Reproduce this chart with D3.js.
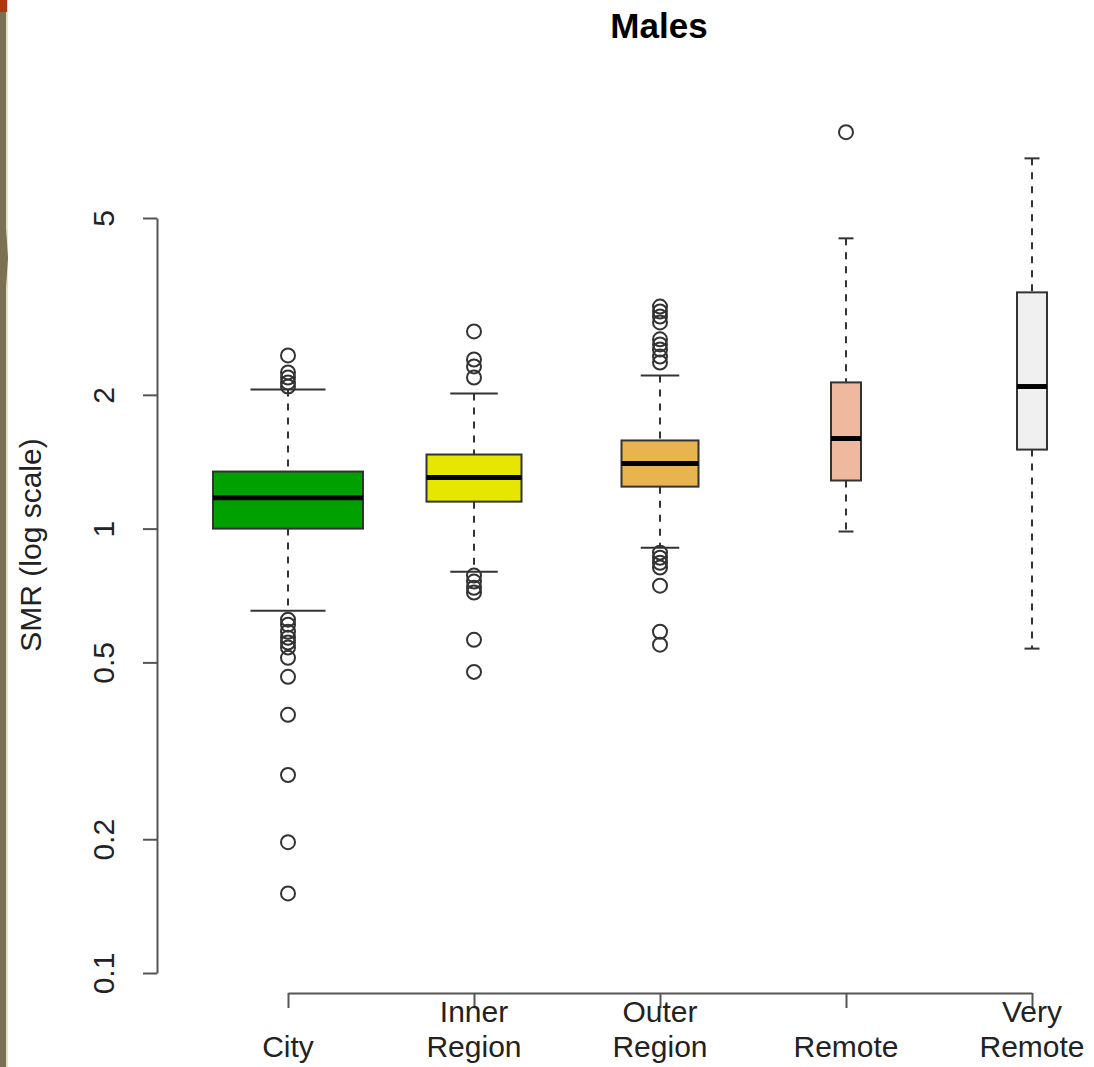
<!DOCTYPE html>
<html>
<head>
<meta charset="utf-8">
<script src="https://cdn.jsdelivr.net/npm/d3@7"></script>
<style>
  body { margin: 0; background: #fff; }
  svg { display: block; font-family: "Liberation Sans", Arial, sans-serif; }
</style>
</head>
<body>
<svg id="chart"></svg>
<script>
// boxplot stats per region (log scale)
var categories = ['City', 'Inner Region', 'Outer Region', 'Remote', 'Very Remote'];
var labelLines = [['City'], ['Inner', 'Region'], ['Outer', 'Region'], ['Remote'], ['Very', 'Remote']];
var whiskerLo = [0.653, 0.800, 0.906, 0.985, 0.537];
var q1 = [1.0, 1.150, 1.243, 1.283, 1.506];
var median = [1.174, 1.303, 1.401, 1.595, 2.088];
var q3 = [1.344, 1.468, 1.579, 2.133, 3.401];
var whiskerHi = [2.056, 2.014, 2.211, 4.5, 6.81];
var outliers = [
	[2.453, 2.246, 2.188, 2.133, 2.088, 0.624, 0.608, 0.586, 0.568, 0.554, 0.540, 0.512, 0.464, 0.381, 0.279, 0.197, 0.151],
	[2.778, 2.402, 2.317, 2.188, 0.784, 0.760, 0.736, 0.718, 0.562, 0.476],
	[3.16, 3.08, 3.00, 2.91, 2.666, 2.597, 2.53, 2.439, 2.365, 0.883, 0.860, 0.838, 0.817, 0.744, 0.586, 0.548],
	[7.80],
	[]
];
var fills = ['#00a000', '#e6e600', '#e8b450', '#efb9a0', '#f0f0f0'];
var yTicks = [0.1, 0.2, 0.5, 1, 2, 5];

var width = 1094, height = 1067;
// varwidth boxes
var boxW = [150, 95, 77, 30, 30];

var svg = d3.select('#chart')
	.attr('width', width)
	.attr('height', height);

// left edge strip from the source screenshot
svg.append('rect').attr('x', 0).attr('y', 0).attr('width', 6).attr('height', height).attr('fill', '#7a7052');
svg.append('rect').attr('x', 6).attr('y', 0).attr('width', 2).attr('height', height).attr('fill', '#dfe6c6');
svg.append('rect').attr('x', 0).attr('y', 0).attr('width', 7).attr('height', 12).attr('fill', '#b0380f');
svg.append('path').attr('d', 'M6,228 L8,258 L6,288 Z').attr('fill', '#7a7052');

var y = d3.scaleLog().domain([0.1, 5]).range([973, 218]);
var x = d3.scalePoint().domain(categories).range([288, 1032]);

var ink = '#333';

// title
svg.append('text')
	.attr('x', 659)
	.attr('y', 38)
	.attr('text-anchor', 'middle')
	.style('font-size', '35px')
	.style('font-weight', 'bold')
	.text('Males');

// y axis
var yAxis = svg.append('g')
	.attr('transform', 'translate(157,0)')
	.call(d3.axisLeft(y).tickValues(yTicks).tickFormat(d3.format('~g')).tickSize(14).tickSizeOuter(0));
yAxis.select('.domain').attr('stroke', '#555').attr('stroke-width', 2);
yAxis.selectAll('.tick line').attr('stroke', '#555').attr('stroke-width', 2);
yAxis.selectAll('.tick text')
	.attr('x', 0).attr('y', 0).attr('dy', null)
	.attr('transform', 'translate(-43,0) rotate(-90)')
	.attr('text-anchor', 'middle')
	.attr('fill', '#222')
	.style('font-size', '30px')
	.style('font-family', '"Liberation Sans", Arial, sans-serif');

svg.append('text')
	.attr('transform', 'translate(41,545) rotate(-90)')
	.attr('text-anchor', 'middle')
	.attr('fill', '#222')
	.style('font-size', '30px')
	.text('SMR (log scale)');

// x axis
var xAxis = svg.append('g')
	.attr('transform', 'translate(0,993)')
	.call(d3.axisBottom(x).tickSize(15).tickSizeOuter(0).tickFormat(''));
xAxis.select('.domain').attr('stroke', '#555').attr('stroke-width', 2);
xAxis.selectAll('.tick line').attr('stroke', '#555').attr('stroke-width', 2);

categories.forEach(function(c, i) {
	var lines = labelLines[i];
	var t = svg.append('text')
		.attr('text-anchor', 'middle')
		.attr('fill', '#222')
		.style('font-size', '30px');
	lines.forEach(function(l, j) {
		t.append('tspan')
			.attr('x', x(c))
			.attr('y', 1057 - (lines.length - 1 - j) * 35)
			.text(l);
	});
});

// boxes
var data = categories.map(function(c, i) {
	return {
		name: c, lo: whiskerLo[i], q1: q1[i], med: median[i], q3: q3[i], hi: whiskerHi[i],
		out: outliers[i], fill: fills[i], w: boxW[i]
	};
});

var g = svg.selectAll('.box').data(data)
	.enter()
	.append('g')
	.attr('class', 'box')
	.attr('transform', function(d) { return 'translate(' + x(d.name) + ',0)'; });

// dashed whiskers
g.append('line')
	.attr('x1', 0).attr('x2', 0)
	.attr('y1', function(d) { return y(d.hi); })
	.attr('y2', function(d) { return y(d.q3); })
	.attr('stroke', ink).attr('stroke-width', 2).attr('stroke-dasharray', '7,7');
g.append('line')
	.attr('x1', 0).attr('x2', 0)
	.attr('y1', function(d) { return y(d.q1); })
	.attr('y2', function(d) { return y(d.lo); })
	.attr('stroke', ink).attr('stroke-width', 2).attr('stroke-dasharray', '7,7');

// whisker caps
['hi', 'lo'].forEach(function(k) {
	g.append('line')
		.attr('x1', function(d) { return -d.w / 4; })
		.attr('x2', function(d) { return d.w / 4; })
		.attr('y1', function(d) { return y(d[k]); })
		.attr('y2', function(d) { return y(d[k]); })
		.attr('stroke', ink).attr('stroke-width', 2);
});

g.append('rect')
	.attr('x', function(d) { return -d.w / 2; })
	.attr('width', function(d) { return d.w; })
	.attr('y', function(d) { return y(d.q3); })
	.attr('height', function(d) { return y(d.q1) - y(d.q3); })
	.attr('fill', function(d) { return d.fill; })
	.attr('stroke', ink).attr('stroke-width', 2);

g.append('line')
	.attr('x1', function(d) { return -d.w / 2; })
	.attr('x2', function(d) { return d.w / 2; })
	.attr('y1', function(d) { return y(d.med); })
	.attr('y2', function(d) { return y(d.med); })
	.attr('stroke', '#000').attr('stroke-width', 5);

g.selectAll('circle').data(function(d) { return d.out; })
	.enter()
	.append('circle')
	.attr('cx', 0)
	.attr('cy', function(v) { return y(v); })
	.attr('r', 7)
	.attr('fill', 'none')
	.attr('stroke', ink)
	.attr('stroke-width', 2);
</script>
</body>
</html>
